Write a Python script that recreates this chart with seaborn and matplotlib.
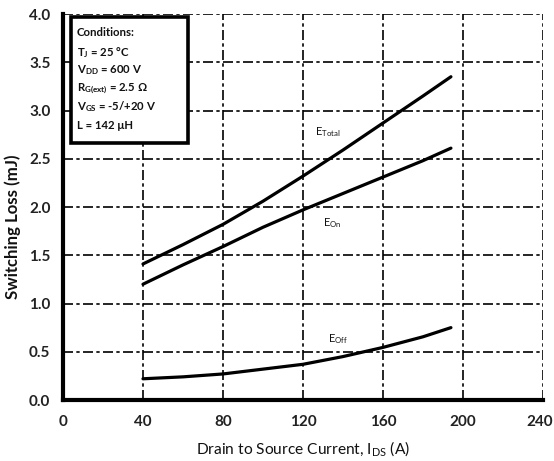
import matplotlib
matplotlib.use("Agg")
import matplotlib.pyplot as plt
from matplotlib.patches import Rectangle
import matplotlib.transforms as mtransforms
import numpy as np
import pandas as pd
import seaborn as sns

# Switching energy vs drain current
current_a = [40, 60, 80, 100, 120, 140, 160, 180, 194]
e_total = [1.41, 1.61, 1.82, 2.06, 2.32, 2.59, 2.87, 3.15, 3.35]
e_on = [1.20, 1.40, 1.59, 1.79, 1.97, 2.14, 2.31, 2.48, 2.61]
e_off = [0.22, 0.24, 0.27, 0.32, 0.37, 0.45, 0.545, 0.655, 0.75]

series_names = ["E$_{Total}$", "E$_{On}$", "E$_{Off}$"]
label_pos = [(132.5, 2.78), (134.5, 1.83), (137.5, 0.63)]

conditions = [
    "Conditions:",
    "T$_{J}$ = 25 °C",
    "V$_{DD}$ = 600 V",
    "R$_{G(ext)}$ = 2.5 Ω",
    "V$_{GS}$ = -5/+20 V",
    "L = 142 μH",
]

x_ticks = [0, 40, 80, 120, 160, 200, 240]
y_ticks = [0.0, 0.5, 1.0, 1.5, 2.0, 2.5, 3.0, 3.5, 4.0]

sns.set_theme(style="white")
plt.rcParams["font.family"] = ["Lato", "DejaVu Sans"]
plt.rcParams["mathtext.fontset"] = "custom"
plt.rcParams["mathtext.rm"] = "Lato"
plt.rcParams["mathtext.default"] = "regular"

n = len(current_a)
df = pd.DataFrame({
    "I": current_a * 3,
    "E": e_total + e_on + e_off,
    "curve": [series_names[0]] * n + [series_names[1]] * n + [series_names[2]] * n,
})

fig = plt.figure(figsize=(5.54, 4.61), dpi=100)
ax = fig.add_axes([0.1137, 0.1323, 0.8663, 0.8373])

sns.lineplot(data=df, x="I", y="E", units="curve", estimator=None,
             color="black", linewidth=2.3, ax=ax, legend=False, zorder=4)

ax.set_xlim(0, 240)
ax.set_ylim(0, 4.0)
ax.set_xticks(x_ticks)
ax.set_yticks(y_ticks)
ax.set_yticklabels([f"{v:.1f}" for v in y_ticks])
ax.grid(True, color="black", linestyle=(0, (6, 2, 2, 2)), linewidth=1.2)
ax.set_axisbelow(True)

for side in ["top", "right"]:
    ax.spines[side].set_visible(False)
for side in ["left", "bottom"]:
    ax.spines[side].set_linewidth(3)
    ax.spines[side].set_color("black")
    ax.spines[side].set_zorder(5)

ax.tick_params(axis="both", direction="out", length=4, width=2.5, color="black",
               labelsize=11)
ax.tick_params(axis="x", pad=7)
ax.tick_params(axis="y", pad=5)
for lbl in ax.get_xticklabels() + ax.get_yticklabels():
    lbl.set_fontweight("bold")
    lbl.set_color("#222222")

# keep the last x tick label inside the canvas
last = ax.get_xticklabels()[-1]
last.set_transform(last.get_transform() +
                   mtransforms.ScaledTranslation(-3 / 100, 0, fig.dpi_scale_trans))

ax.set_xlabel("Drain to Source Current, I$_{DS}$ (A)", fontsize=11.2, color="#111111", labelpad=7)
ax.set_ylabel("Switching Loss (mJ)", fontsize=12.1, fontweight="bold", color="#111111")
ax.yaxis.set_label_coords(-0.088, 0.45)

for name, (lx, ly) in zip(series_names, label_pos):
    ax.text(lx, ly, name, fontsize=8, ha="center", va="center", color="#111111")

ax.add_patch(Rectangle((4, 2.66), 58.5, 1.31, facecolor="white", edgecolor="black",
                       linewidth=2.6, zorder=6))
line_y = [3.81, 3.60, 3.42, 3.23, 3.04, 2.84]
for txt, ty in zip(conditions, line_y):
    ax.text(7, ty, txt, fontsize=8.2, fontweight="bold", ha="left", va="center",
            color="#111111", zorder=7)

fig.savefig("out.png", dpi=100)
